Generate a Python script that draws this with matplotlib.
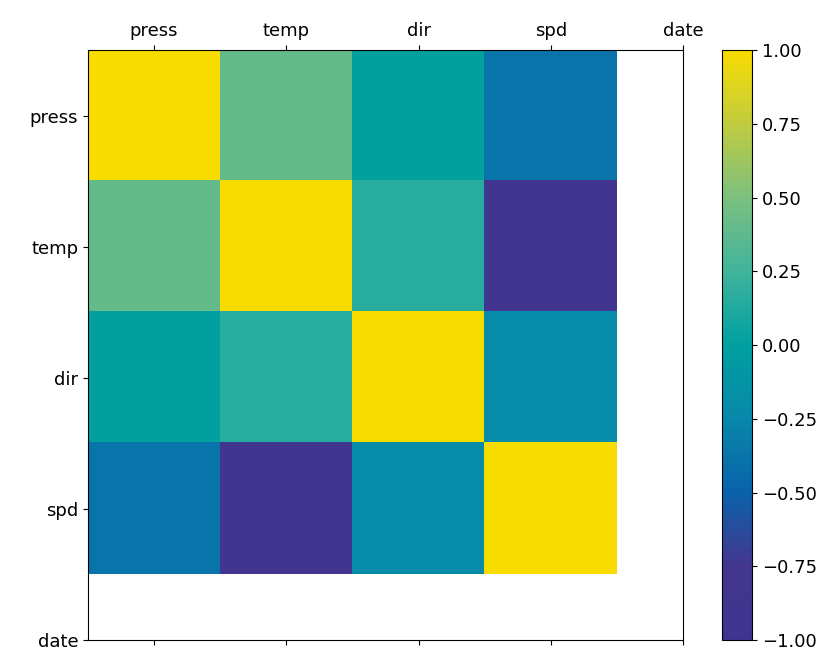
import numpy as np
import matplotlib
matplotlib.use("Agg")
import matplotlib.pyplot as plt
from matplotlib.colors import LinearSegmentedColormap

# correlation matrix
nomes = ['press', 'temp', 'dir', 'spd', 'date']
corr = np.array([
    [1.00, 0.40, 0.00, -0.38],
    [0.40, 1.00, 0.15, -0.80],
    [0.00, 0.15, 1.00, -0.20],
    [-0.38, -0.80, -0.20, 1.00],
])

# parula-like colormap sampled from the colorbar
cores = ['#3f3590', '#43368f', '#0a62aa', '#0888aa', '#00a0a0',
         '#40b49c', '#7cc080', '#c0cc40', '#f8dc00']
cmap = LinearSegmentedColormap.from_list('parula_like', cores)

fig = plt.figure(figsize=(8.34, 6.54), dpi=100)
ax = fig.add_axes([0.1055, 0.0214, 0.7134, 0.902])
cax = fig.add_axes([0.8657, 0.0214, 0.036, 0.902])

im = ax.matshow(corr, cmap=cmap, vmin=-1, vmax=1, aspect='auto')
ticks = np.arange(0, 5, 1)
ax.set_xticks(ticks)
ax.set_yticks(ticks)
ax.set_xticklabels(nomes, fontsize=13)
ax.set_yticklabels(nomes, fontsize=13)
ax.set_xlim(-0.5, 4)
ax.set_ylim(4, -0.5)

cb = fig.colorbar(im, cax=cax)
cb.set_ticks(np.arange(-1, 1.01, 0.25))
cb.ax.tick_params(labelsize=13)

fig.savefig('out.png', dpi=100)
